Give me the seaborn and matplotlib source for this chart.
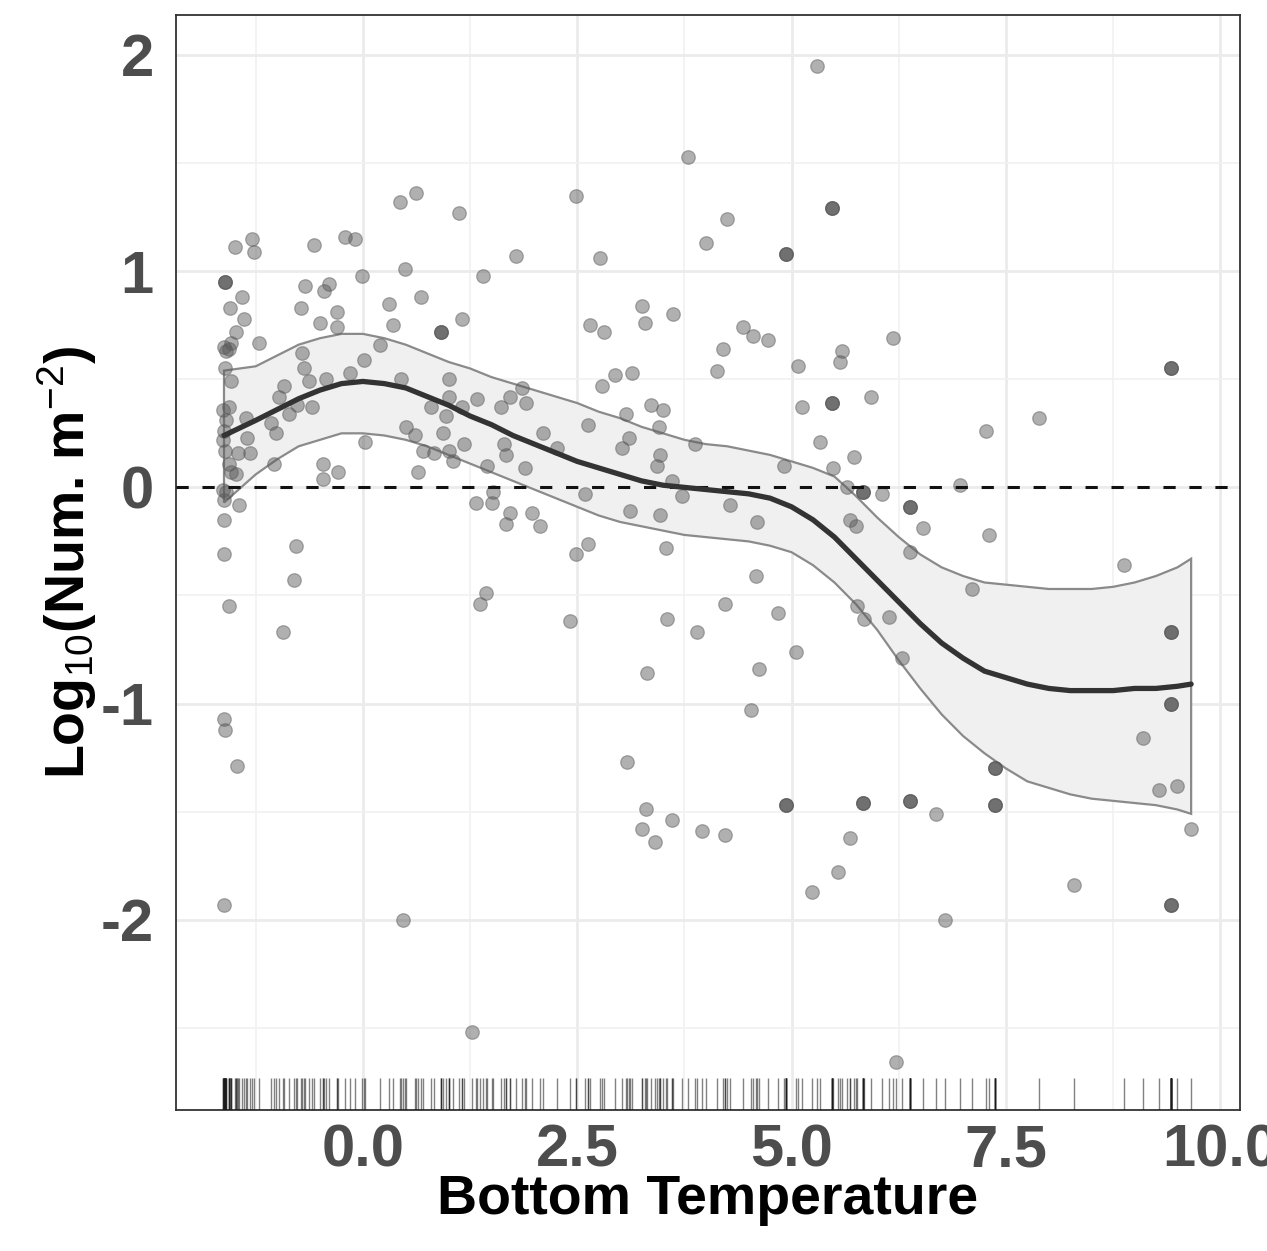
import numpy as np
import pandas as pd
import matplotlib
matplotlib.use("Agg")
import matplotlib.pyplot as plt
import seaborn as sns

# ---------------- data ----------------
# bottom temperature of each station (x) and log10 density (y);
# n_obs = number of observations stacked on the same spot
temp = [0.62, 0.43, -1.29, -1.49, -1.27, -0.57, -0.21, -0.09, -0.01, 0.49,
        -1.61, -1.41, -0.68, -0.40, -0.45, -1.55, -0.72, -0.30, 0.68, 0.30,
        -1.39, -0.50, -0.30, 0.35, -1.48, 0.91, -1.62, -1.56, -1.54, -1.60,
        -1.21, 0.20, -0.71, -0.69, 0.01, -1.61, -1.54, -0.63, -0.43, -0.15,
        0.45, 1.00, -0.92, -0.98, -0.77, -0.86, -0.59, -1.63, -1.56, -1.60,
        -1.62, -1.63, -1.61, -1.56, -1.36, -1.07, -1.01, -1.35, -1.46, -1.32,
        0.50, 0.61, 0.80, 1.00, 0.97, 0.93, 0.70, 0.83, 1.00, 1.05,
        0.03, -1.04, -0.47, -0.29, -0.47, 0.64, -1.54, -1.48, -1.63, -1.45,
        -1.62, -0.78, -1.62, -0.80, -1.56, -0.93, -1.62, -1.61, -1.47, -1.62,
        0.47, -1.60, -1.62,
        3.79, 2.49, 1.12, 4.25, 1.79, 2.77, 4.00, 1.40, 3.25, 3.29,
        3.62, 1.15, 2.65, 2.81, 4.20, 4.13, 2.94, 3.14, 2.79, 1.85,
        1.33, 1.71, 1.61, 1.90, 1.15, 3.07, 3.36, 3.50, 2.62, 2.10,
        3.45, 3.10, 2.26, 1.18, 1.64, 1.67, 3.02, 3.46, 3.43, 3.87,
        1.45, 1.89, 3.61, 1.52, 2.59, 3.72, 1.50, 1.32, 1.72, 1.67,
        1.97, 2.07, 3.12, 3.47, 4.28, 2.62, 2.49, 3.53, 1.43, 1.36,
        2.42, 3.55, 3.90, 4.22, 3.31, 3.08, 3.30, 3.25, 3.41, 3.60,
        3.95, 4.22, 1.27,
        5.30, 5.47, 4.93, 4.43, 4.55, 4.73, 5.07, 5.59, 5.57, 6.18,
        5.93, 5.12, 5.47, 7.27, 5.33, 4.91, 5.48, 5.73, 5.65, 5.83,
        6.05, 6.96, 5.68, 5.75, 6.38, 4.60, 6.53, 7.30, 6.38, 4.59,
        4.84, 7.11, 5.76, 5.84, 6.14, 5.05, 4.62, 6.29, 4.53, 7.37,
        4.93, 5.83, 6.38, 6.69, 7.37, 5.68, 5.54, 5.24, 6.79, 6.22,
        7.89, 9.42, 8.88, 9.43, 9.43, 9.10, 9.29, 9.50, 9.66, 8.29,
        9.42]
logdens = [1.36, 1.32, 1.15, 1.11, 1.09, 1.12, 1.16, 1.15, 0.98, 1.01,
           0.95, 0.88, 0.93, 0.94, 0.91, 0.83, 0.83, 0.81, 0.88, 0.85,
           0.78, 0.76, 0.74, 0.75, 0.72, 0.72, 0.65, 0.64, 0.67, 0.63,
           0.67, 0.66, 0.62, 0.55, 0.59, 0.55, 0.49, 0.49, 0.50, 0.53,
           0.50, 0.50, 0.47, 0.42, 0.38, 0.34, 0.37, 0.36, 0.37, 0.31,
           0.26, 0.22, 0.17, 0.11, 0.32, 0.30, 0.25, 0.23, 0.16, 0.16,
           0.28, 0.24, 0.37, 0.42, 0.33, 0.25, 0.17, 0.16, 0.17, 0.12,
           0.21, 0.11, 0.11, 0.07, 0.04, 0.07, 0.07, 0.06, -0.01, -0.08,
           -0.15, -0.27, -0.31, -0.43, -0.55, -0.67, -1.07, -1.12, -1.29, -1.93,
           -2.00, -0.02, -0.06,
           1.53, 1.35, 1.27, 1.24, 1.07, 1.06, 1.13, 0.98, 0.84, 0.76,
           0.80, 0.78, 0.75, 0.72, 0.64, 0.54, 0.52, 0.53, 0.47, 0.46,
           0.41, 0.42, 0.37, 0.39, 0.37, 0.34, 0.38, 0.36, 0.29, 0.25,
           0.28, 0.23, 0.18, 0.20, 0.20, 0.15, 0.18, 0.15, 0.10, 0.20,
           0.10, 0.09, 0.03, -0.02, -0.03, -0.04, -0.07, -0.07, -0.12, -0.17,
           -0.12, -0.18, -0.11, -0.13, -0.08, -0.26, -0.31, -0.28, -0.49, -0.54,
           -0.62, -0.61, -0.67, -0.54, -0.86, -1.27, -1.49, -1.58, -1.64, -1.54,
           -1.59, -1.61, -2.52,
           1.95, 1.29, 1.08, 0.74, 0.70, 0.68, 0.56, 0.63, 0.58, 0.69,
           0.42, 0.37, 0.39, 0.26, 0.21, 0.10, 0.09, 0.14, 0.00, -0.02,
           -0.03, 0.01, -0.15, -0.18, -0.09, -0.16, -0.19, -0.22, -0.30, -0.41,
           -0.58, -0.47, -0.55, -0.61, -0.60, -0.76, -0.84, -0.79, -1.03, -1.30,
           -1.47, -1.46, -1.45, -1.51, -1.47, -1.62, -1.78, -1.87, -2.00, -2.66,
           0.32, 0.55, -0.36, -0.67, -1.00, -1.16, -1.40, -1.38, -1.58, -1.84,
           -1.93]
n_obs = [1, 1, 1, 1, 1, 1, 1, 1, 1, 1,
         3, 1, 1, 1, 1, 1, 1, 1, 1, 1,
         1, 1, 1, 1, 1, 3, 1, 1, 1, 1,
         1, 1, 1, 1, 1, 1, 1, 1, 1, 1,
         1, 1, 1, 1, 1, 1, 1, 1, 1, 1,
         1, 1, 1, 1, 1, 1, 1, 1, 1, 1,
         1, 1, 1, 1, 1, 1, 1, 1, 1, 1,
         1, 1, 1, 1, 1, 1, 1, 1, 1, 1,
         1, 1, 1, 1, 1, 1, 1, 1, 1, 1,
         1, 1, 1,
         1, 1, 1, 1, 1, 1, 1, 1, 1, 1,
         1, 1, 1, 1, 1, 1, 1, 1, 1, 1,
         1, 1, 1, 1, 1, 1, 1, 1, 1, 1,
         1, 1, 1, 1, 1, 1, 1, 1, 1, 1,
         1, 1, 1, 1, 1, 1, 1, 1, 1, 1,
         1, 1, 1, 1, 1, 1, 1, 1, 1, 1,
         1, 1, 1, 1, 1, 1, 1, 1, 1, 1,
         1, 1, 1,
         1, 3, 3, 1, 1, 1, 1, 1, 1, 1,
         1, 1, 3, 1, 1, 1, 1, 1, 1, 3,
         1, 1, 1, 1, 3, 1, 1, 1, 1, 1,
         1, 1, 1, 1, 1, 1, 1, 1, 1, 3,
         3, 3, 3, 1, 3, 1, 1, 1, 1, 1,
         1, 3, 1, 3, 3, 1, 1, 1, 1, 1,
         3]

# fitted smooth (GAM) and its confidence band
fit_x = [-1.62, -1.25, -1.0, -0.75, -0.5, -0.25, 0.0, 0.25, 0.5, 0.75,
         1.0, 1.25, 1.5, 1.75, 2.0, 2.25, 2.5, 2.75, 3.0, 3.25,
         3.5, 3.75, 4.0, 4.25, 4.5, 4.75, 5.0, 5.25, 5.5, 5.75,
         6.0, 6.25, 6.5, 6.75, 7.0, 7.25, 7.5, 7.75, 8.0, 8.25,
         8.5, 8.75, 9.0, 9.25, 9.5, 9.66]
fit_y = [0.24, 0.31, 0.36, 0.41, 0.45, 0.48, 0.49, 0.48, 0.46, 0.42,
         0.38, 0.33, 0.29, 0.24, 0.20, 0.16, 0.12, 0.09, 0.06, 0.03,
         0.01, 0.00, -0.01, -0.02, -0.03, -0.05, -0.09, -0.15, -0.23, -0.33,
         -0.43, -0.53, -0.63, -0.72, -0.79, -0.85, -0.88, -0.91, -0.93, -0.94,
         -0.94, -0.94, -0.93, -0.93, -0.92, -0.91]
fit_hi = [0.54, 0.56, 0.61, 0.66, 0.69, 0.71, 0.71, 0.69, 0.66, 0.62,
          0.58, 0.55, 0.51, 0.48, 0.45, 0.42, 0.39, 0.35, 0.32, 0.28,
          0.25, 0.22, 0.20, 0.19, 0.17, 0.15, 0.12, 0.09, 0.05, -0.04,
          -0.14, -0.23, -0.31, -0.37, -0.41, -0.44, -0.45, -0.46, -0.47, -0.47,
          -0.47, -0.46, -0.44, -0.41, -0.37, -0.33]
fit_lo = [-0.07, 0.06, 0.13, 0.19, 0.22, 0.25, 0.25, 0.24, 0.22, 0.19,
          0.15, 0.11, 0.07, 0.03, -0.01, -0.05, -0.09, -0.13, -0.16, -0.18,
          -0.20, -0.22, -0.23, -0.24, -0.25, -0.27, -0.30, -0.36, -0.44, -0.54,
          -0.66, -0.80, -0.93, -1.05, -1.15, -1.23, -1.30, -1.36, -1.39, -1.42,
          -1.44, -1.45, -1.46, -1.47, -1.49, -1.51]

x_ticks = [0.0, 2.5, 5.0, 7.5, 10.0]
x_ticklabels = ["0.0", "2.5", "5.0", "7.5", "10.0"]
y_ticks = [-2, -1, 0, 1, 2]
y_ticklabels = ["-2", "-1", "0", "1", "2"]
x_title = "Bottom Temperature"
y_title = r"Log$_{\mathrm{10}}$(Num. m$^{\mathrm{-2}}$)"

# ---------------- styling ----------------
sns.set_theme(style="white")
plt.rcParams["font.family"] = ["Liberation Sans", "DejaVu Sans"]
plt.rcParams["mathtext.fontset"] = "custom"
plt.rcParams["mathtext.rm"] = "Liberation Sans"
plt.rcParams["mathtext.it"] = "Liberation Sans:italic"
plt.rcParams["mathtext.bf"] = "Liberation Sans:bold"

df = pd.DataFrame({"temp": np.repeat(temp, n_obs),
                   "logdens": np.repeat(logdens, n_obs)})

W, H = 1267, 1251
fig = plt.figure(figsize=(W / 100, H / 100), dpi=100)
ax = fig.add_axes([176 / W, 1 - 1110 / H, (1240 - 176) / W, (1110 - 15) / H])
ax.set_facecolor("white")

# grid
ax.set_axisbelow(True)
ax.set_xticks(x_ticks)
ax.set_xticks([-1.25, 1.25, 3.75, 6.25, 8.75], minor=True)
ax.set_yticks(y_ticks)
ax.set_yticks([-2.5, -1.5, -0.5, 0.5, 1.5], minor=True)
ax.grid(which="major", color="#ebebeb", lw=2.0, zorder=0)
ax.grid(which="minor", color="#f1f1f1", lw=1.2, zorder=0)

# confidence band
band_x = np.r_[fit_x, fit_x[::-1]]
band_y = np.r_[fit_hi, fit_lo[::-1]]
ax.fill(band_x, band_y, facecolor="#f0f0f0", edgecolor="#8a8a8a",
        lw=1.6, zorder=2)

# points
sns.scatterplot(data=df, x="temp", y="logdens", s=95, color="#5a5a5a",
                alpha=0.48, edgecolor="#5a5a5a", linewidth=0.9, ax=ax,
                zorder=3, legend=False)

# rug
sns.rugplot(data=df, x="temp", height=0.029, color="#1a1a1a", alpha=0.55,
            lw=2.2, ax=ax, zorder=3)

# zero line
ax.axhline(0, color="#111111", lw=2.2, ls=(0, (4, 4.5)), zorder=4)

# smooth
sns.lineplot(x=fit_x, y=fit_y, color="#333333", lw=3.8, ax=ax, zorder=5,
             sort=True, estimator=None)

ax.set_xlim(-2.18, 10.23)
ax.set_ylim(-2.88, 2.185)

ax.set_xticklabels(x_ticklabels)
ax.set_yticklabels(y_ticklabels)
ax.tick_params(axis="both", which="major", length=7, width=1.3,
               color="#333333", direction="out", labelsize=43,
               labelcolor="#4d4d4d")
ax.tick_params(axis="x", which="major", pad=3)
ax.tick_params(axis="y", which="major", pad=9)
ax.tick_params(which="minor", length=0)
for lab in ax.get_xticklabels() + ax.get_yticklabels():
    lab.set_fontweight("bold")

for sp in ax.spines.values():
    sp.set_visible(True)
    sp.set_color("#333333")
    sp.set_linewidth(1.3)

ax.set_xlabel(x_title, fontsize=40, fontweight="bold", color="black")
ax.set_ylabel(y_title, fontsize=40, fontweight="bold", color="black")
ax.xaxis.set_label_coords(0.5, -0.058)
ax.yaxis.set_label_coords(-0.072, 0.5)

fig.savefig("out.png", dpi=100)
